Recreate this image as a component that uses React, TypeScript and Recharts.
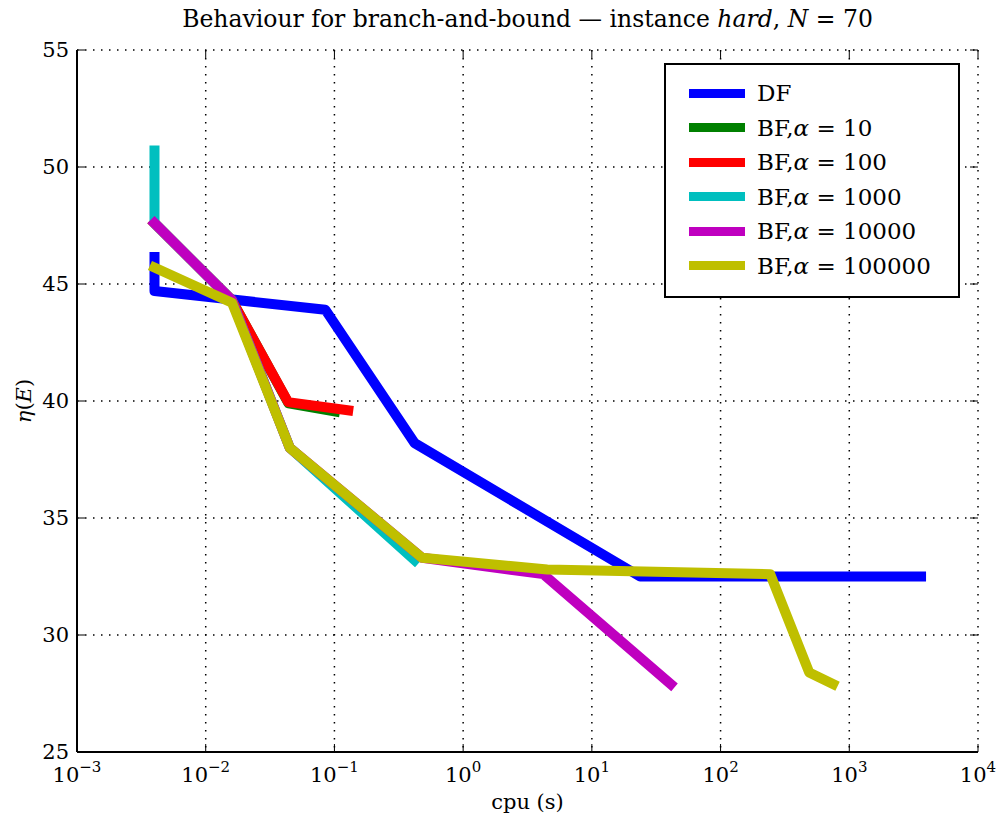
import { LineChart, Line, XAxis, YAxis, CartesianGrid, Legend } from 'recharts'

const FONT = '"DejaVu Serif", serif'
const PLOT_W = 901
const PLOT_H = 702

const seriesNames = ['DF', 'BF,α = 10', 'BF,α = 100', 'BF,α = 1000', 'BF,α = 10000', 'BF,α = 100000']
const seriesColors = ['#0000ff', '#008000', '#ff0000', '#00bfbf', '#bf00bf', '#bfbf00']

const dfCpu = [0.004, 0.004, 0.085, 0.42, 23.7, 3610]
const dfEta = [46.15, 44.7, 43.9, 38.2, 32.5, 32.5]

const bf10Cpu = [0.004, 0.016, 0.044, 0.101]
const bf10Eta = [47.6, 44.3, 39.9, 39.55]

const bf100Cpu = [0.004, 0.016, 0.0437, 0.128]
const bf100Eta = [47.6, 44.3, 39.95, 39.6]

const bf1000Cpu = [0.004, 0.004, 0.016, 0.045, 0.42]
const bf1000Eta = [50.7, 47.6, 44.3, 38.0, 33.2]

const bf10000Cpu = [0.004, 0.016, 0.045, 0.48, 4.2, 41]
const bf10000Eta = [47.6, 44.3, 38.0, 33.3, 32.6, 27.9]

const bf100000Cpu = [0.004, 0.016, 0.045, 0.48, 4.5, 243, 488, 748]
const bf100000Eta = [45.7, 44.2, 38.0, 33.3, 32.8, 32.6, 28.4, 27.9]

const xTicks = [0.001, 0.01, 0.1, 1, 10, 100, 1000, 10000]
const xMinorTicks: number[] = []
xTicks.slice(0, -1).forEach(d => {
  for (let k = 2; k <= 9; k++) xMinorTicks.push(d * k)
})
const yTicks = [25, 30, 35, 40, 45, 50, 55]

const zip = (xs: number[], ys: number[]) => xs.map((x, i) => ({ x, y: ys[i] }))

const series = [
  zip(dfCpu, dfEta),
  zip(bf10Cpu, bf10Eta),
  zip(bf100Cpu, bf100Eta),
  zip(bf1000Cpu, bf1000Eta),
  zip(bf10000Cpu, bf10000Eta),
  zip(bf100000Cpu, bf100000Eta),
]

function SeriesName({ name }: { name: string }) {
  if (!name.includes('α')) return <span>{name}</span>
  const [head, tail] = name.split('α')
  return (
    <span>
      {head}
      <i>α</i>
      {tail}
    </span>
  )
}

function MajorXTick(props: any) {
  const { x, y, payload } = props
  const exp = Math.round(Math.log10(payload.value))
  return (
    <g>
      <line x1={x} x2={x} y1={y} y2={y - 8} stroke="#000" strokeWidth={1} />
      <line x1={x} x2={x} y1={y - PLOT_H} y2={y - PLOT_H + 8} stroke="#000" strokeWidth={1} />
      <text x={x} y={y + 30} textAnchor="middle" fontFamily={FONT} fontSize={21} fill="#000">
        10
        <tspan dy={-10} fontSize={15}>
          {exp < 0 ? '−' + Math.abs(exp) : String(exp)}
        </tspan>
      </text>
    </g>
  )
}

function MinorXTick(props: any) {
  const { x, y } = props
  return (
    <g>
      <line x1={x} x2={x} y1={y} y2={y + 4} stroke="#000" strokeWidth={1} />
      <line x1={x} x2={x} y1={y + PLOT_H} y2={y + PLOT_H - 4} stroke="#000" strokeWidth={1} />
    </g>
  )
}

function YTick(props: any) {
  const { x, y, payload } = props
  return (
    <g>
      <line x1={x} x2={x + 8} y1={y} y2={y} stroke="#000" strokeWidth={1} />
      <line x1={x + PLOT_W} x2={x + PLOT_W - 8} y1={y} y2={y} stroke="#000" strokeWidth={1} />
      <text x={x - 8} y={y + 7} textAnchor="end" fontFamily={FONT} fontSize={21} fill="#000">
        {payload.value}
      </text>
    </g>
  )
}

function renderLegend(props: any) {
  const items = [...(props.payload || [])].sort(
    (a: any, b: any) => seriesNames.indexOf(a.value) - seriesNames.indexOf(b.value)
  )
  return (
    <div
      style={{
        position: 'relative',
        width: 296,
        height: 235,
        boxSizing: 'border-box',
        border: '2px solid #000',
        background: '#fff',
        fontFamily: FONT,
        fontSize: 23,
        color: '#000',
      }}
    >
      {items.map((item: any, i: number) => (
        <div
          key={item.value}
          style={{
            position: 'absolute',
            left: 23,
            top: 28 - 17 + i * 34.5,
            height: 34,
            display: 'flex',
            alignItems: 'center',
            whiteSpace: 'nowrap',
          }}
        >
          <span style={{ display: 'inline-block', width: 56, height: 9, background: item.color, marginRight: 12 }} />
          <SeriesName name={item.value} />
        </div>
      ))}
    </div>
  )
}

export default function App() {
  return (
    <div style={{ position: 'absolute', left: 0, top: 0, width: 998, height: 818, background: '#fff' }}>
      <div
        style={{
          position: 'absolute',
          left: 77,
          width: PLOT_W,
          top: 5,
          textAlign: 'center',
          fontFamily: FONT,
          fontSize: 23.5,
          color: '#000',
          whiteSpace: 'nowrap',
        }}
      >
        Behaviour for branch-and-bound — instance <i>hard</i>, <i>N</i> = 70
      </div>
      <LineChart width={998} height={818} margin={{ top: 50, right: 20, bottom: 0, left: 0 }}>
        <CartesianGrid stroke="#000" strokeWidth={1.5} strokeDasharray="1.5 6.5" />
        <XAxis
          dataKey="x"
          type="number"
          scale="log"
          domain={[0.001, 10000]}
          allowDataOverflow
          ticks={xTicks}
          interval={0}
          height={66}
          tickSize={0}
          tickMargin={0}
          tickLine={false}
          axisLine={{ stroke: '#000', strokeWidth: 2 }}
          tick={<MajorXTick />}
          label={{ value: 'cpu (s)', position: 'insideBottom', offset: 9, fontFamily: FONT, fontSize: 21, fill: '#000' }}
        />
        <XAxis
          xAxisId="minor"
          dataKey="x"
          type="number"
          scale="log"
          orientation="top"
          domain={[0.001, 10000]}
          allowDataOverflow
          ticks={xMinorTicks}
          interval={0}
          height={0}
          tickSize={0}
          tickMargin={0}
          tickLine={false}
          axisLine={{ stroke: '#000', strokeWidth: 2 }}
          tick={<MinorXTick />}
        />
        <YAxis
          type="number"
          domain={[25, 55]}
          ticks={yTicks}
          interval={0}
          width={77}
          tickSize={0}
          tickMargin={0}
          tickLine={false}
          axisLine={{ stroke: '#000', strokeWidth: 2 }}
          tick={<YTick />}
          label={{
            content: () => (
              <text
                transform="translate(31, 401) rotate(-90)"
                textAnchor="middle"
                fontFamily={FONT}
                fontSize={21}
                fill="#000"
              >
                <tspan fontStyle="italic">η</tspan>(<tspan fontStyle="italic">E</tspan>)
              </text>
            ),
          }}
        />
        <YAxis
          yAxisId="right"
          orientation="right"
          type="number"
          domain={[25, 55]}
          width={0}
          tick={false}
          tickLine={false}
          axisLine={{ stroke: '#000', strokeWidth: 2 }}
        />
        {series.map((data, i) => (
          <Line
            key={seriesNames[i]}
            data={data}
            dataKey="y"
            name={seriesNames[i]}
            type="linear"
            stroke={seriesColors[i]}
            strokeWidth={10}
            strokeLinecap="square"
            strokeLinejoin="round"
            dot={false}
            activeDot={false}
            isAnimationActive={false}
          />
        ))}
        <Legend
          layout="vertical"
          align="center"
          verticalAlign="middle"
          content={renderLegend}
          wrapperStyle={{ position: 'absolute', left: 664, top: 63, width: 296, height: 235 }}
        />
      </LineChart>
    </div>
  )
}
